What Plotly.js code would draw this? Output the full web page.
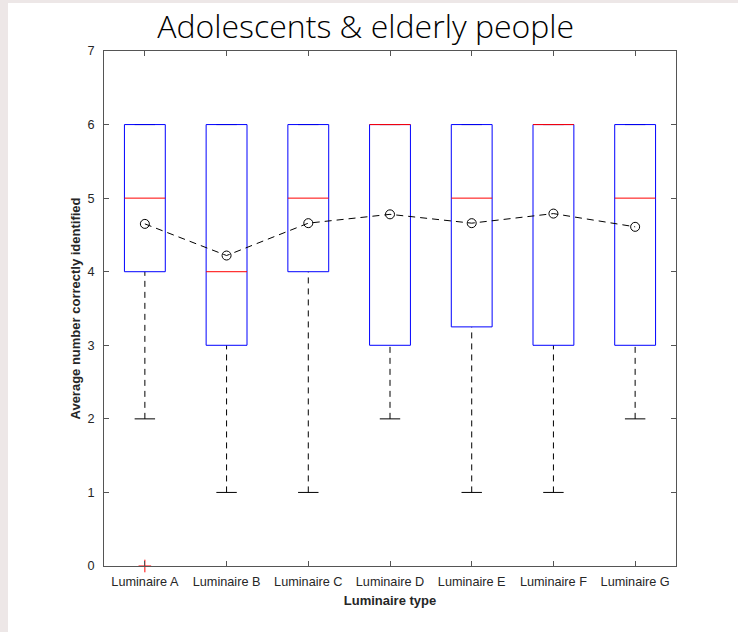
<!DOCTYPE html>
<html>
<head>
<meta charset="utf-8">
<script src="https://cdn.plot.ly/plotly-3.0.1.min.js"></script>
<style>
  html, body { margin: 0; padding: 0; background: #ede7e7; width: 738px; height: 632px; overflow: hidden; }
  #chart { position: absolute; left: 8px; top: 3px; width: 730px; height: 629px; background: #ffffff; }
</style>
</head>
<body>
<div id="chart"></div>
<script>
// ---- data ----
const categories = ['Luminaire A', 'Luminaire B', 'Luminaire C', 'Luminaire D', 'Luminaire E', 'Luminaire F', 'Luminaire G'];
const q1 = [4, 3, 4, 3, 3.25, 3, 3];
const medians = [5, 4, 5, 6, 5, 6, 5];
const q3 = [6, 6, 6, 6, 6, 6, 6];
const lowerWhisker = [2, 1, 1, 2, 1, 1, 2];
const upperWhisker = [6, 6, 6, 6, 6, 6, 6];
const means = [4.65, 4.22, 4.66, 4.78, 4.66, 4.79, 4.61];
const outlierCategory = ['Luminaire A'];
const outlierValue = [0];

// ---- build traces ----
const pos = categories.map((c, i) => i + 1);
const halfBox = 0.25, halfCap = 0.125;

const boxX = [], boxY = [], medX = [], medY = [], whX = [], whY = [], capX = [], capY = [];
pos.forEach((p, i) => {
  boxX.push(p - halfBox, p + halfBox, p + halfBox, p - halfBox, p - halfBox, null);
  boxY.push(q1[i], q1[i], q3[i], q3[i], q1[i], null);
  medX.push(p - halfBox, p + halfBox, null);
  medY.push(medians[i], medians[i], null);
  if (lowerWhisker[i] < q1[i]) {
    whX.push(p, p, null); whY.push(lowerWhisker[i], q1[i], null);
  }
  if (upperWhisker[i] > q3[i]) {
    whX.push(p, p, null); whY.push(q3[i], upperWhisker[i], null);
  }
  capX.push(p - halfCap, p + halfCap, null); capY.push(lowerWhisker[i], lowerWhisker[i], null);
  capX.push(p - halfCap, p + halfCap, null); capY.push(upperWhisker[i], upperWhisker[i], null);
});

const traces = [
  { type: 'scatter', mode: 'lines', x: whX, y: whY, line: { color: '#000000', width: 1, dash: '6px,5px' }, hoverinfo: 'skip', showlegend: false },
  { type: 'scatter', mode: 'lines', x: capX, y: capY, line: { color: '#000000', width: 1 }, hoverinfo: 'skip', showlegend: false },
  { type: 'scatter', mode: 'lines', x: boxX, y: boxY, line: { color: '#0000ff', width: 1 }, hoverinfo: 'skip', showlegend: false },
  { type: 'scatter', mode: 'lines', x: medX, y: medY, line: { color: '#ff0000', width: 1 }, hoverinfo: 'skip', showlegend: false },
  { type: 'scatter', mode: 'lines+markers', x: pos, y: means,
    line: { color: '#000000', width: 1, dash: '7px,5px' },
    marker: { symbol: 'circle-open', size: 9, color: '#000000', line: { width: 1, color: '#000000' } },
    showlegend: false },
  { type: 'scatter', mode: 'markers', x: outlierCategory.map(c => categories.indexOf(c) + 1), y: outlierValue,
    marker: { symbol: 'cross-thin', size: 9, color: '#ff0000', line: { width: 1, color: '#ff0000' } },
    cliponaxis: false, showlegend: false }
];

const layout = {
  width: 730, height: 629,
  paper_bgcolor: '#ffffff', plot_bgcolor: '#ffffff',
  margin: { l: 96, r: 62, t: 48, b: 66, pad: 0 },
  showlegend: false,
  title: {
    text: 'Adolescents &amp; elderly people',
    font: { family: 'Open Sans, Lato, sans-serif', size: 32, color: '#000000', weight: 300 },
    x: 0.49, xref: 'container', xanchor: 'center',
    y: 0.962, yref: 'container', yanchor: 'middle'
  },
  xaxis: {
    range: [0.5, 7.5],
    tickmode: 'array', tickvals: pos, ticktext: categories,
    ticks: 'inside', ticklen: 5, tickcolor: '#555555', tickwidth: 1,
    showline: true, linecolor: '#555555', linewidth: 1, mirror: 'ticks',
    showgrid: false, zeroline: false,
    tickfont: { family: 'Liberation Sans, Arial, sans-serif', size: 12.7, color: '#262626' },
    ticklabelstandoff: 4,
    title: { text: 'Luminaire type', font: { family: 'Liberation Sans, Arial, sans-serif', size: 13, color: '#262626', weight: 'bold' }, standoff: 7 }
  },
  yaxis: {
    range: [0, 7],
    tickmode: 'array', tickvals: [0, 1, 2, 3, 4, 5, 6, 7],
    ticks: 'inside', ticklen: 5, tickcolor: '#555555', tickwidth: 1,
    showline: true, linecolor: '#555555', linewidth: 1, mirror: 'ticks',
    showgrid: false, zeroline: false,
    tickfont: { family: 'Liberation Sans, Arial, sans-serif', size: 12.7, color: '#262626' },
    ticklabelstandoff: 6,
    title: { text: 'Average number correctly identified', font: { family: 'Liberation Sans, Arial, sans-serif', size: 13, color: '#262626', weight: 'bold' }, standoff: 3 }
  }
};

Plotly.newPlot('chart', traces, layout, { displayModeBar: false, staticPlot: true });
</script>
</body>
</html>
